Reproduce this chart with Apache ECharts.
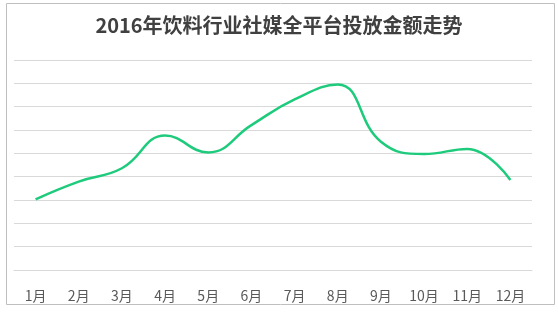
<!DOCTYPE html>
<html>
<head>
<meta charset="utf-8">
<style>
html,body{margin:0;padding:0;background:#fff;}
#chart{width:558px;height:318px;}
</style>
<script src="https://cdn.jsdelivr.net/npm/echarts@6/dist/echarts.min.js"></script>
</head>
<body>
<div id="chart"></div>
<script>
const titleText = '2016年饮料行业社媒全平台投放金额走势';
const months = ['1月','2月','3月','4月','5月','6月','7月','8月','9月','10月','11月','12月'];
const amounts = [3.03, 3.79, 4.36, 5.76, 5.04, 6.21, 7.31, 7.95, 5.5, 4.97, 5.19, 3.86];

const chart = echarts.init(document.getElementById('chart'), null, {renderer:'canvas'});
chart.setOption({
  animation: false,
  textStyle: {fontFamily: '"Noto Sans CJK SC", "Noto Sans", sans-serif'},
  title: {
    text: titleText,
    left: 'center',
    top: 10,
    textStyle: {fontSize: 20, fontWeight: 'bold', color: '#404040', fontFamily: '"Noto Sans CJK SC", sans-serif'}
  },
  graphic: [{
    type: 'rect',
    shape: {x: 6.5, y: 3.5, width: 548, height: 301},
    style: {fill: 'none', stroke: '#bfbfbf', lineWidth: 1},
    silent: true
  }],
  grid: {left: 14, right: 26, top: 60, bottom: 48},
  xAxis: {
    type: 'category',
    data: months,
    boundaryGap: true,
    axisLine: {show: true, lineStyle: {color: '#d9d9d9', width: 1}},
    axisTick: {show: false},
    axisLabel: {color: '#595959', fontSize: 14, margin: 19, interval: 0}
  },
  yAxis: {
    type: 'value',
    min: 0, max: 9, interval: 1,
    axisLabel: {show: false},
    axisLine: {show: false},
    axisTick: {show: false},
    splitLine: {lineStyle: {color: '#d9d9d9', width: 1}}
  },
  series: [{
    type: 'line',
    data: amounts,
    smooth: 0.45,
    symbol: 'none',
    lineStyle: {color: '#1ecb7c', width: 2.5}
  }]
});
</script>
</body>
</html>
